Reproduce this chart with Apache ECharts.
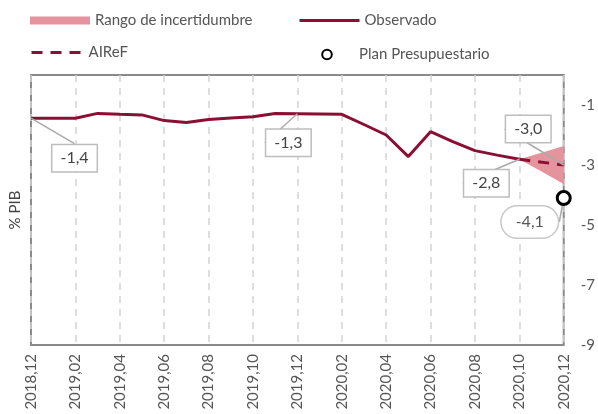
<!DOCTYPE html>
<html>
<head>
<meta charset="utf-8">
<script src="https://cdn.jsdelivr.net/npm/echarts@6/dist/echarts.min.js"></script>
<style>html,body{margin:0;padding:0;background:#fff}#c{width:598px;height:414px}</style>
</head>
<body>
<div id="c"></div>
<script>
const months = ['2018,12','2019,01','2019,02','2019,03','2019,04','2019,05','2019,06','2019,07','2019,08','2019,09','2019,10','2019,11','2019,12',
  '2020,01','2020,02','2020,03','2020,04','2020,05','2020,06','2020,07','2020,08','2020,09','2020,10','2020,11','2020,12'];
const observado = [-1.44,-1.44,-1.44,-1.28,-1.31,-1.33,-1.52,-1.58,-1.48,-1.43,-1.39,-1.28,-1.29,
  -1.30,-1.31,-1.65,-2.00,-2.72,-1.89,-2.22,-2.52,-2.67,-2.81,null,null];
const airef = [null,null,null,null,null,null,null,null,null,null,null,null,null,
  null,null,null,null,null,null,null,null,null,-2.81,null,-3.0];
const rangoInf = [null,null,null,null,null,null,null,null,null,null,null,null,null,
  null,null,null,null,null,null,null,null,null,-2.81,-3.22,-3.63];
const rangoSup = [null,null,null,null,null,null,null,null,null,null,null,null,null,
  null,null,null,null,null,null,null,null,null,-2.81,-2.59,-2.37];
const planPresup = [null,null,null,null,null,null,null,null,null,null,null,null,null,
  null,null,null,null,null,null,null,null,null,null,null,-4.1];
const yTicks = [-9,-7,-5,-3,-1];
// labels: index -> text
const obsLabels = {0:'-1,4', 12:'-1,3', 22:'-2,8'};
const airefLabels = {24:'-3,0'};
const planLabels = {24:'-4,1'};

const FONT = 'Lato, "Open Sans", sans-serif';
const RED = '#8a0f33';
const PINK = '#e5939d';
const boxLabel = {
  show: true, color: '#444', fontSize: 16, fontFamily: FONT,
  backgroundColor: '#fff', borderColor: '#bdbdbd', borderWidth: 1.5,
  padding: [6, 8, 4, 8]
};

function labelled(arr, labels, extra) {
  return arr.map((v, i) => {
    if (labels[i] !== undefined && v !== null) {
      return {value: v, label: Object.assign({}, boxLabel, {formatter: labels[i]}, extra || {}),
        labelLine: {show: true, lineStyle: {color: '#aaa', width: 1.5}}};
    }
    return v;
  });
}

// annotation offsets relative to anchor point
const obsOffsets = {
  0: {dx: 43.5, dy: 40, line: [[1,0],[9,40],[21,40]]},
  12: {dx: -9, dy: 29, line: [[-1,1],[-10,14],[-10,14]]},
  22: {dx: -33, dy: 24, line: null}
};
const airefOffsets = {24: {dx: -35.5, dy: -36, line: [[-1,-8],[-1,-36],[-13,-36]]}};
const planOffsets = {24: {dx: -34, dy: 24, line: null}};

function layoutFn(offsets) {
  return function (p) {
    const o = offsets[p.dataIndex];
    if (!o) return {};
    const cx = p.rect.x + p.rect.width / 2;
    const cy = p.rect.y + p.rect.height / 2;
    const res = {x: cx + o.dx, y: cy + o.dy, align: 'center', verticalAlign: 'middle'};
    if (o.line) {
      res.labelLinePoints = o.line.map(q => [cx + q[0], cy + q[1]]);
    } else {
      res.labelLinePoints = [[cx, cy], [cx, cy], [cx, cy]];
    }
    return res;
  };
}

const legendText = {fontSize: 15, color: '#555', fontFamily: FONT};
const chart = echarts.init(document.getElementById('c'));
chart.setOption({
  animation: false,
  textStyle: {fontFamily: FONT},
  grid: {left: 29, right: 32, top: 75, bottom: 69, show: true, borderColor: '#8a8a8a', borderWidth: 2, backgroundColor: 'transparent'},
  legend: [
    {left: 25, top: 8, itemWidth: 60, itemHeight: 8, textStyle: legendText,
      data: [{name: 'Rango de incertidumbre', icon: 'rect'}]},
    {left: 293, top: 8, itemWidth: 60, itemHeight: 8, textStyle: legendText,
      itemStyle: {opacity: 0}, lineStyle: {width: 3},
      data: ['Observado']},
    {left: 25, top: 40, itemWidth: 52, itemHeight: 8, textStyle: legendText,
      itemStyle: {opacity: 0}, lineStyle: {width: 3},
      data: ['AIReF']},
    {left: 316, top: 42, itemWidth: 12, itemHeight: 12, textStyle: Object.assign({}, legendText, {padding: [0,0,0,21]}),
      data: ['Plan Presupuestario']}
  ],
  xAxis: {
    type: 'category', data: months, boundaryGap: false,
    axisLine: {show: false}, axisTick: {show: false, interval: 1},
    axisLabel: {interval: 1, rotate: 90, margin: 9, fontSize: 15, color: '#555', fontFamily: FONT},
    splitLine: {show: true, interval: 1, lineStyle: {color: '#d3d3d3', width: 1.5, type: [7, 6]}}
  },
  yAxis: [
    {type: 'value', position: 'right', min: -9, max: 0, interval: 1,
      axisLine: {show: false}, axisTick: {show: false}, splitLine: {show: false},
      axisLabel: {margin: 17, fontSize: 15, color: '#555', fontFamily: FONT,
        formatter: v => (yTicks.indexOf(v) >= 0 ? String(v) : '')}},
    {type: 'value', position: 'left', min: -9, max: 0, interval: 1,
      name: '% PIB', nameLocation: 'middle', nameGap: 8, nameRotate: 90,
      nameTextStyle: {fontSize: 15, color: '#444', fontFamily: FONT},
      axisLine: {show: false}, axisTick: {show: false}, splitLine: {show: false}, axisLabel: {show: false}}
  ],
  series: [
    {name: 'base', type: 'line', stack: 'band', stackStrategy: 'all', data: rangoInf, symbol: 'none',
      lineStyle: {opacity: 0}, silent: true, z: 1},
    {name: 'Rango de incertidumbre', type: 'line', stack: 'band', stackStrategy: 'all',
      data: rangoSup.map((v, i) => (v === null ? null : +(v - rangoInf[i]).toFixed(3))),
      symbol: 'none', lineStyle: {opacity: 0, width: 0}, itemStyle: {color: PINK},
      areaStyle: {color: PINK, opacity: 1}, silent: true, z: 1},
    {name: 'Observado', type: 'line', data: labelled(observado, obsLabels), symbol: 'circle', symbolSize: 0,
      showSymbol: true, showAllSymbol: true, itemStyle: {color: RED}, lineStyle: {color: RED, width: 3},
      labelLayout: layoutFn(obsOffsets), z: 3},
    {name: 'AIReF', type: 'line', data: labelled(airef, airefLabels), connectNulls: true, symbol: 'circle', symbolSize: 0,
      showSymbol: true, showAllSymbol: true, itemStyle: {color: RED}, lineStyle: {color: RED, width: 3, type: [11, 8]},
      labelLayout: layoutFn(airefOffsets), z: 3},
    {name: 'Plan Presupuestario', type: 'line', data: labelled(planPresup, planLabels,
        {borderRadius: 17, padding: [9, 14, 6, 14], borderColor: '#c8c8c8', color: '#555'}),
      symbol: 'circle', symbolSize: 13, showSymbol: true, lineStyle: {width: 0},
      itemStyle: {color: '#fff', borderColor: '#000', borderWidth: 3},
      labelLayout: layoutFn(planOffsets), z: 5}
  ]
});
</script>
</body>
</html>
